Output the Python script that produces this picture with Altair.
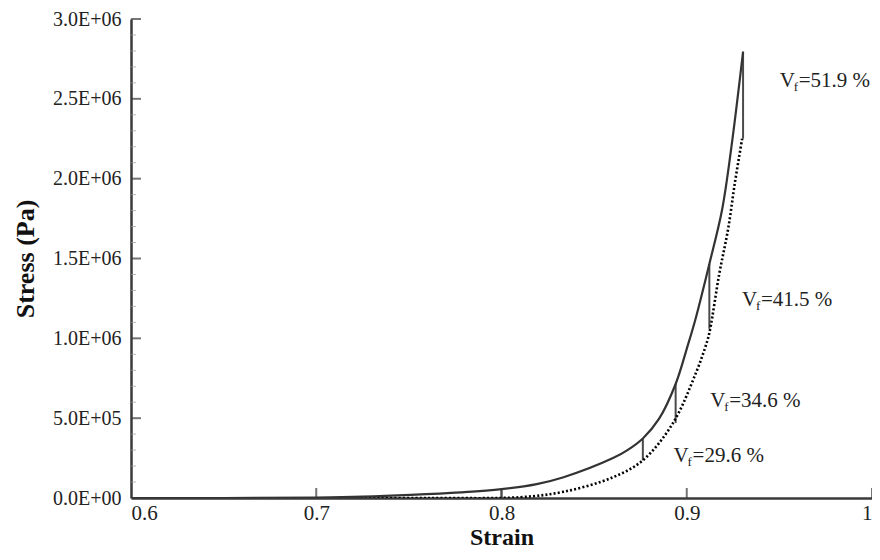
import altair as alt
import pandas as pd

# Loading curve (solid)
solid_strain = [0.600, 0.650, 0.700, 0.725, 0.751, 0.778, 0.800, 0.819, 0.8335,
                0.8602, 0.868, 0.8763, 0.885, 0.894, 0.9004, 0.9047, 0.9122, 0.9191, 0.9244, 0.9304]
solid_stress = [0, 0, 3e3, 8e3, 1.9e4, 3.5e4, 5.5e4, 8.7e4, 1.30e5,
                2.50e5, 3.00e5, 3.73e5, 4.95e5, 7.14e5, 9.5e5, 1.12e6, 1.466e6, 1.807e6, 2.224e6, 2.795e6]

# Relaxed curve (dotted)
dotted_strain = [0.715, 0.760, 0.810, 0.8335, 0.8602, 0.8763, 0.8924, 0.9047,
                 0.911, 0.9127, 0.9175, 0.9223, 0.926, 0.9299]
dotted_stress = [0, 0, 5e3, 3.9e4, 1.3e5, 2.36e5, 4.66e5, 7.76e5,
                 9.81e5, 1.062e6, 1.40e6, 1.683e6, 1.975e6, 2.25e6]

# Relaxation drops (vertical segments)
drop_strain = [0.800, 0.8763, 0.894, 0.9122, 0.9304]
drop_top = [5.5e4, 3.73e5, 7.14e5, 1.466e6, 2.795e6]
drop_bottom = [0, 2.36e5, 4.7e5, 1.06e6, 2.25e6]

# Fibre volume fraction labels
label_vf = ["29.6", "34.6", "41.5", "51.9"]
label_strain = [0.8929, 0.9127, 0.9298, 0.9502]
label_stress = [2.61e5, 6.09e5, 1.242e6, 2.61e6]

x_ticks = [0.6, 0.7, 0.8, 0.9, 1.0]
y_ticks = [0, 5e5, 1e6, 1.5e6, 2e6, 2.5e6, 3e6]
y_minor = [1e5, 2e5, 3e5, 4e5, 6e5, 7e5, 8e5, 9e5, 1.1e6, 1.2e6, 1.3e6, 1.4e6,
           1.6e6, 1.7e6, 1.8e6, 1.9e6, 2.1e6, 2.2e6, 2.3e6, 2.4e6,
           2.6e6, 2.7e6, 2.8e6, 2.9e6]

solid_df = pd.DataFrame({"strain": solid_strain, "stress": solid_stress})
dotted_df = pd.DataFrame({"strain": dotted_strain, "stress": dotted_stress})
drop_df = pd.DataFrame({"strain": drop_strain, "top": drop_top, "bottom": drop_bottom})
lab_df = pd.DataFrame({"strain": label_strain, "stress": label_stress,
                       "rest": ["=" + v + " %" for v in label_vf]})
xt_df = pd.DataFrame({"strain": x_ticks[1:], "stress": [0] * 4})
yt_df = pd.DataFrame({"strain": [0.6] * 6, "stress": y_ticks[1:]})
ym_df = pd.DataFrame({"strain": [0.6] * len(y_minor), "stress": y_minor})

AX = "#3a3a3a"
xs = alt.Scale(domain=[0.6, 1.0], nice=False, zero=False)
ys = alt.Scale(domain=[0, 3e6], nice=False)
x_axis = alt.Axis(values=x_ticks, title="Strain",
                  labelExpr="datum.value >= 0.999 ? '1' : format(datum.value, '.1f')",
                  labelPadding=4, titlePadding=2, titleFontSize=24, labelFontSize=21)
ylab = ("datum.value == 0 ? '0.0E+00' : "
        "format(datum.value / pow(10, floor(log(datum.value)/LN10 + 1e-9)), '.1f') + 'E+' + "
        "(floor(log(datum.value)/LN10 + 1e-9) < 10 ? '0' : '') + floor(log(datum.value)/LN10 + 1e-9)")
y_axis = alt.Axis(values=y_ticks, title="Stress (Pa)", labelExpr=ylab, labelPadding=10,
                  labelFontSize=20, titleX=-98, titleBaseline="alphabetic")

X = alt.X("strain:Q", scale=xs, axis=x_axis)
Y = alt.Y("stress:Q", scale=ys, axis=y_axis)

solid = alt.Chart(solid_df).mark_line(color="#333333", strokeWidth=2.2, interpolate="catmull-rom",
                                      clip=True).encode(x=X, y=Y, order="strain:Q")
dotted = alt.Chart(dotted_df).mark_line(color="#000000", strokeWidth=2.6, strokeDash=[2, 2.2],
                                        interpolate="catmull-rom", clip=True).encode(
    x=X, y=Y, order="strain:Q")
drops = alt.Chart(drop_df).mark_rule(color="#4a4a4a", strokeWidth=2).encode(
    x=X, y=alt.Y("top:Q", scale=ys, axis=y_axis), y2="bottom:Q")

xt = alt.Chart(xt_df).mark_tick(orient="vertical", size=10, thickness=2, yOffset=-5, color=AX).encode(x=X, y=Y)
yt = alt.Chart(yt_df).mark_tick(orient="horizontal", size=10, thickness=2, xOffset=5, color=AX).encode(x=X, y=Y)
ym = alt.Chart(ym_df).mark_tick(orient="horizontal", size=5, thickness=1, xOffset=2.5, color="#9a9a9a").encode(x=X, y=Y)

FONT = "Liberation Serif"
lv = alt.Chart(lab_df).mark_text(align="left", baseline="middle", font=FONT, fontSize=21,
                                 color="#222222").encode(x=X, y=Y, text=alt.value("V"))
lf = alt.Chart(lab_df).mark_text(align="left", baseline="middle", font=FONT, fontSize=13,
                                 dx=14, dy=6, color="#222222").encode(x=X, y=Y, text=alt.value("f"))
lr = alt.Chart(lab_df).mark_text(align="left", baseline="middle", font=FONT, fontSize=21,
                                 dx=19, color="#222222").encode(x=X, y=Y, text="rest:N")

chart = alt.layer(ym, yt, xt, drops, dotted, solid, lv, lf, lr).properties(
    width=741, height=479,
    autosize=alt.AutoSizeParams(type="none"),
    padding={"left": 123, "top": 11, "right": 0, "bottom": 52},
    background="white",
).configure_view(stroke=None).configure_axis(
    grid=False, ticks=False, domainColor=AX, domainWidth=2.5,
    labelFont=FONT, labelColor="#222222",
    titleFont=FONT, titleFontSize=26, titleFontWeight="bold", titleColor="#111111",
)

chart.save("out.html", embed_options={"renderer": "svg", "actions": False})
